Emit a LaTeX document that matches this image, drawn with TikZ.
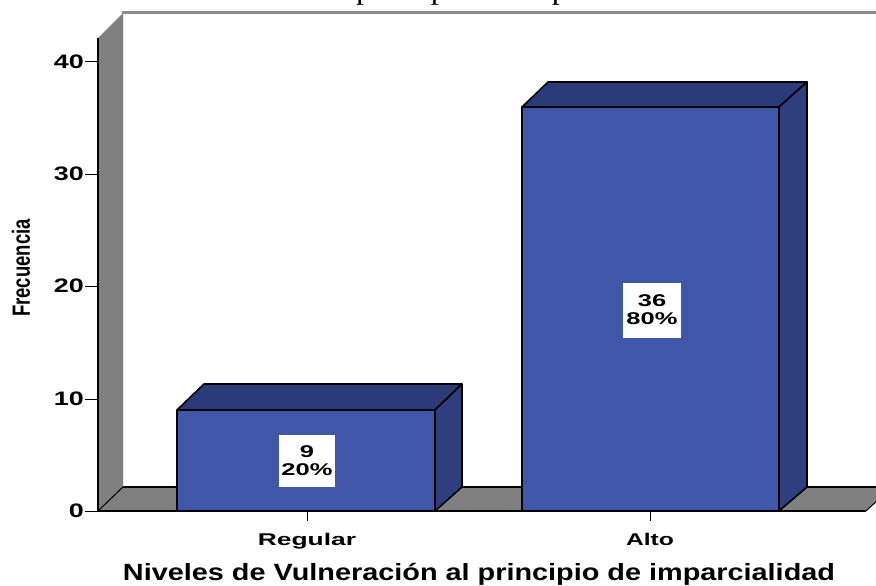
\documentclass[tikz,border=0pt]{standalone}
\usepackage{fontspec}
\usepackage{graphicx}
\setmainfont{Liberation Sans}
\newfontfamily\serifttl{Liberation Serif}
\definecolor{barfront}{HTML}{4057A9}
\definecolor{bartop}{HTML}{2B3A78}
\definecolor{barside}{HTML}{2F3E7E}
\definecolor{wallgray}{HTML}{808080}
\definecolor{linegray}{HTML}{8C8C8C}
\newcommand{\hstretch}[2]{\scalebox{#1}[1]{#2}}
\begin{document}
\begin{tikzpicture}[x=1pt,y=-1pt,
  edge/.style={draw=black,line width=1.6pt,line join=round},
  axisline/.style={draw=black,line width=1.5pt},
  ticklab/.style={anchor=east,inner sep=0,font=\bfseries\fontsize{19.5}{19.5}\selectfont},
  catlab/.style={anchor=base,inner sep=0,font=\bfseries\fontsize{17}{17}\selectfont},
  valbox/.style={fill=white,inner sep=0,align=center,font=\bfseries\fontsize{17}{18}\selectfont},
]
\useasboundingbox (0,0) rectangle (876,586);
\fill[white] (0,0) rectangle (876,586);
\begin{scope}
\clip (0,0) rectangle (876,586);
% cut-off title
\node[anchor=base west,inner sep=0,font=\serifttl\fontsize{32}{32}\selectfont] (toptitle) at (356,-1) {principio de imparcialidad};
% left wall
\fill[wallgray] (98,511) -- (98,38) -- (123,13) -- (123,487) -- cycle;
\draw[linegray,line width=3pt] (122,13) -- (880,13);
% floor
\fill[wallgray] (98,511) -- (123,487) -- (892,487) -- (866,511) -- cycle;
\draw[black,line width=1.2pt] (123,487) -- (892,487);
\draw[black,line width=1pt] (98,511) -- (123,487);
\draw[black,line width=1pt] (866,511) -- (892,487);
\end{scope}
% Regular bar
\filldraw[fill=barfront,edge] (177,511) rectangle (435,410);
\filldraw[fill=bartop,edge] (177,410) -- (204,384) -- (462,384) -- (435,410) -- cycle;
\filldraw[fill=barside,edge] (435,410) -- (462,384) -- (462,487) -- (435,511) -- cycle;
% Alto bar
\filldraw[fill=barfront,edge] (522,511) rectangle (779,107);
\filldraw[fill=bartop,edge] (522,107) -- (548,82) -- (807,82) -- (779,107) -- cycle;
\filldraw[fill=barside,edge] (779,107) -- (807,82) -- (807,487) -- (779,511) -- cycle;
% axes
\draw[axisline] (98,38) -- (98,511) -- (866,511);
\foreach \yy/\lab in {511/0,399/10,286/20,174/30,62/40}{
  \draw[black,line width=1pt] (85,\yy) -- (98,\yy);
  \node[ticklab] (tick\lab) at (84,\yy) {\hstretch{1.38}{\lab}};
}
\draw[black,line width=1pt] (307,511) -- (307,521);
\draw[black,line width=1pt] (650,511) -- (650,521);
% value labels
\node[valbox,minimum width=56pt,minimum height=52pt] (valreg) at (307,461) {\hstretch{1.5}{9}\\\hstretch{1.5}{20\%}};
\node[valbox,minimum width=58pt,minimum height=55pt] (valalto) at (652,310) {\hstretch{1.5}{36}\\\hstretch{1.5}{80\%}};
% category labels
\node[catlab] (catreg) at (307,545) {\hstretch{1.55}{Regular}};
\node[catlab] (catalto) at (650,545) {\hstretch{1.45}{Alto}};
% axis titles
\node[rotate=90,inner sep=0,font=\bfseries\fontsize{18.5}{19}\selectfont] (ytitle) at (21,268) {\scalebox{1}[1.35]{Frecuencia}};
\node[anchor=base,inner sep=0] (xtitle) at (479,580) {\resizebox{712pt}{\height}{\bfseries\fontsize{23.5}{24}\selectfont Niveles de Vulneración al principio de imparcialidad}};
\end{tikzpicture}
\end{document}
